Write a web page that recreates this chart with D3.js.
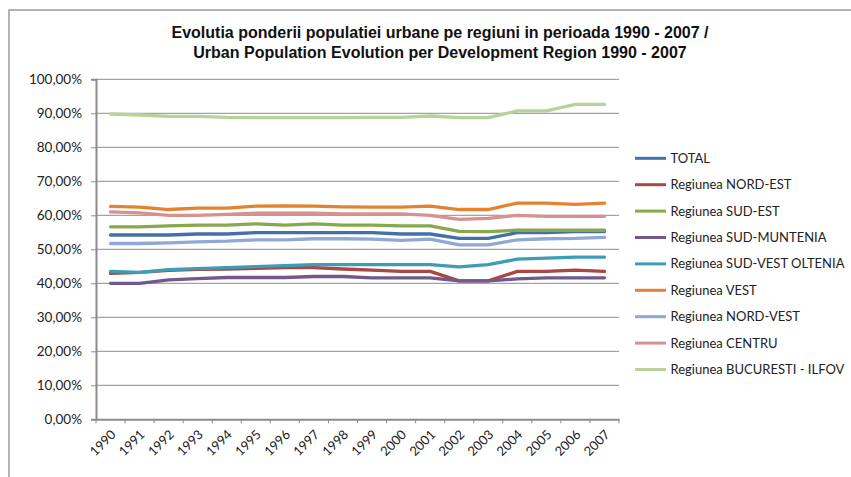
<!DOCTYPE html>
<html>
<head>
<meta charset="utf-8">
<script src="https://cdn.jsdelivr.net/npm/d3@7"></script>
<style>
  body { margin: 0; background: #fff; }
  svg { display: block; }
  .tick text { font-family: Lato, "Open Sans", sans-serif; fill: #222; }
</style>
</head>
<body>
<svg id="chart" width="851" height="477"></svg>
<script>
// Years on the category axis
const years = ['1990', '1991', '1992', '1993', '1994', '1995', '1996', '1997', '1998',
  '1999', '2000', '2001', '2002', '2003', '2004', '2005', '2006', '2007'];

// Series names (legend order)
const seriesNames = ['TOTAL', 'Regiunea NORD-EST', 'Regiunea SUD-EST', 'Regiunea SUD-MUNTENIA',
  'Regiunea SUD-VEST OLTENIA', 'Regiunea VEST', 'Regiunea NORD-VEST', 'Regiunea CENTRU',
  'Regiunea BUCURESTI - ILFOV'];

// Urban population share (%)
const total = [54.2, 54.2, 54.2, 54.5, 54.5, 54.9, 54.9, 54.9, 54.9, 54.9, 54.5, 54.5, 53.2, 53.2, 54.9, 54.9, 55.2, 55.2];
const nordEst = [42.9, 43.2, 43.8, 44.1, 44.2, 44.4, 44.6, 44.6, 44.2, 43.9, 43.5, 43.5, 40.7, 40.7, 43.5, 43.5, 43.9, 43.5];
const sudEst = [56.6, 56.6, 56.9, 57.1, 57.1, 57.5, 57.1, 57.5, 57.1, 57.1, 56.9, 56.9, 55.3, 55.2, 55.6, 55.6, 55.6, 55.6];
const sudMuntenia = [40.0, 40.0, 41.0, 41.4, 41.7, 41.7, 41.7, 42.0, 42.0, 41.6, 41.6, 41.6, 40.7, 40.7, 41.3, 41.6, 41.6, 41.6];
const sudVestOltenia = [43.5, 43.2, 44.0, 44.3, 44.6, 44.9, 45.2, 45.5, 45.5, 45.5, 45.5, 45.5, 44.8, 45.5, 47.1, 47.4, 47.7, 47.7];
const vest = [62.6, 62.4, 61.7, 62.1, 62.1, 62.7, 62.8, 62.7, 62.5, 62.4, 62.4, 62.7, 61.7, 61.7, 63.6, 63.6, 63.2, 63.6];
const nordVest = [51.7, 51.7, 51.9, 52.2, 52.4, 52.8, 52.8, 53.1, 53.1, 53.0, 52.6, 53.0, 51.3, 51.3, 52.8, 53.1, 53.2, 53.5];
const centru = [61.0, 60.7, 60.0, 60.0, 60.3, 60.6, 60.6, 60.6, 60.4, 60.4, 60.4, 60.0, 58.8, 59.1, 60.0, 59.7, 59.7, 59.7];
const bucuresti = [89.8, 89.5, 89.1, 89.1, 88.8, 88.7, 88.7, 88.7, 88.7, 88.8, 88.8, 89.2, 88.7, 88.7, 90.7, 90.7, 92.6, 92.6];

// Y axis tick values
const yTicks = [0, 10, 20, 30, 40, 50, 60, 70, 80, 90, 100];

const seriesValues = [total, nordEst, sudEst, sudMuntenia, sudVestOltenia, vest, nordVest, centru, bucuresti];
const seriesColors = ['#4470A8', '#AA4643', '#87A84B', '#71588F', '#3D9DB5', '#E4832F', '#8FA8D4', '#D89191', '#BAD299'];

const svg = d3.select('#chart');
const margin = { left: 96, right: 619, top: 79.3, bottom: 419.3 };

// Outer chart frame
svg.append('rect')
  .attr('x', 9).attr('y', 10)
  .attr('width', 900).attr('height', 600)
  .attr('fill', 'none')
  .attr('stroke', '#9a9a9a')
  .attr('stroke-width', 1.5);

// Title
const title = svg.append('text')
  .attr('x', 440)
  .attr('text-anchor', 'middle')
  .style('font-family', '"Liberation Sans", Arial, sans-serif')
  .style('font-weight', 'bold')
  .style('font-size', '16px')
  .attr('fill', '#111');
title.append('tspan').attr('x', 440).attr('y', 38)
  .text('Evolutia ponderii populatiei urbane pe regiuni in perioada 1990 - 2007 /');
title.append('tspan').attr('x', 440).attr('y', 58)
  .text('Urban Population Evolution per Development Region 1990 - 2007');

// Scales
const x = d3.scaleBand()
  .domain(years)
  .range([margin.left, margin.right]);

const y = d3.scaleLinear()
  .domain([0, 100])
  .range([margin.bottom, margin.top]);

// Gridlines
svg.append('g')
  .selectAll('line')
  .data(yTicks.slice(1))
  .enter()
  .append('line')
  .attr('x1', margin.left).attr('x2', margin.right)
  .attr('y1', d => y(d)).attr('y2', d => y(d))
  .attr('stroke', '#8c8c8c')
  .attr('stroke-width', 1);

// Y axis
const yAxis = svg.append('g')
  .attr('transform', `translate(${margin.left},0)`)
  .call(d3.axisLeft(y)
    .tickValues(yTicks)
    .tickSize(5)
    .tickFormat(d => d3.format('.2f')(d).replace('.', ',') + '%'));
yAxis.select('.domain').attr('stroke', '#8c8c8c').attr('stroke-width', 2);
yAxis.selectAll('.tick line').attr('stroke', '#8c8c8c');
yAxis.selectAll('.tick text').attr('x', -14).style('font-size', '13.5px');

// X axis
const xAxis = svg.append('g')
  .attr('transform', `translate(0,${margin.bottom})`)
  .call(d3.axisBottom(x).tickSize(0).tickSizeOuter(0));
xAxis.select('.domain').attr('stroke', '#8c8c8c').attr('stroke-width', 2);
xAxis.selectAll('.tick text')
  .style('font-size', '13px')
  .attr('text-anchor', 'end')
  .attr('dx', 0)
  .attr('dy', 0)
  .attr('transform', 'translate(4,14) rotate(-45)');

// Tick marks between categories
svg.append('g')
  .selectAll('line')
  .data(years.concat(['end']))
  .enter()
  .append('line')
  .attr('x1', (d, i) => margin.left + i * x.step())
  .attr('x2', (d, i) => margin.left + i * x.step())
  .attr('y1', margin.bottom)
  .attr('y2', margin.bottom + 4)
  .attr('stroke', '#8c8c8c');

// Lines
const line = d3.line()
  .x((d, i) => x(years[i]) + x.bandwidth() / 2)
  .y(d => y(d));

svg.append('g')
  .selectAll('path')
  .data(seriesValues)
  .enter()
  .append('path')
  .attr('d', line)
  .attr('fill', 'none')
  .attr('stroke', (d, i) => seriesColors[i])
  .attr('stroke-width', 3.3)
  .attr('stroke-linejoin', 'round')
  .attr('stroke-linecap', 'round');

// Legend
const legend = svg.append('g');
legend.selectAll('g')
  .data(seriesNames)
  .enter()
  .append('g')
  .attr('transform', (d, i) => `translate(635,${158.3 + i * 26.4})`)
  .each(function(d, i) {
    const item = d3.select(this);
    item.append('line')
      .attr('x1', 0).attr('x2', 31)
      .attr('stroke', seriesColors[i])
      .attr('stroke-width', 3);
    item.append('text')
      .attr('x', 35.5)
      .attr('dy', '0.35em')
      .style('font-family', 'Lato, "Open Sans", sans-serif')
      .style('font-size', '13px')
      .attr('fill', '#222')
      .text(d);
  });
</script>
</body>
</html>
